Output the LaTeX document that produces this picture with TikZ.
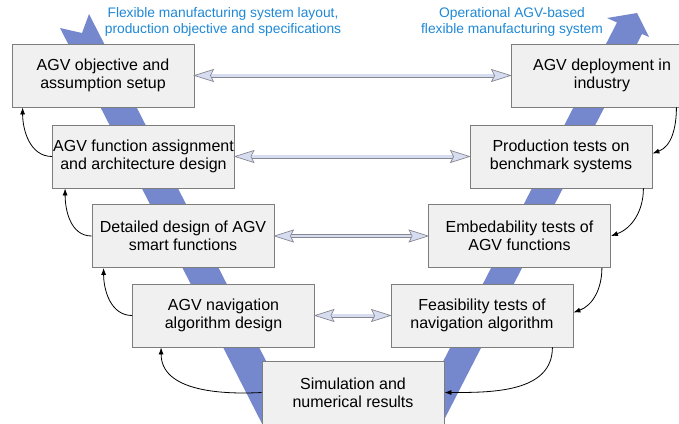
\documentclass[tikz,border=0pt]{standalone}
\usepackage{fontspec}
\setmainfont{Liberation Sans}
\usetikzlibrary{arrows.meta}
\definecolor{vblue}{RGB}{118,136,205}
\definecolor{boxfill}{RGB}{240,240,240}
\definecolor{boxline}{RGB}{125,125,125}
\definecolor{lblblue}{RGB}{30,136,214}
\definecolor{headfill}{RGB}{214,221,240}
\definecolor{dblline}{RGB}{135,135,145}
\tikzset{
  box/.style={draw=boxline, fill=boxfill, line width=0.8pt, minimum width=182pt, minimum height=63pt,
    inner sep=0pt, align=center, font=\fontsize{16}{18.3}\selectfont},
  lbl/.style={text=lblblue, align=center, inner sep=0pt, font=\fontsize{13.8}{16.4}\selectfont},
  fb/.style={draw=black, line width=0.8pt, -{Latex[length=7pt,width=5pt]}},
  shaftst/.style={draw=dblline, line width=0.9pt, double=headfill, double distance=2.2pt},
  headst/.style={draw=dblline, fill=headfill, line width=0.7pt, line join=miter},
  vband/.style={fill=vblue, draw=none}
}
\newcommand\biarrow[2]{%
  \draw[shaftst] ([xshift=17pt]#1) -- ([xshift=-17pt]#2);
  \draw[headst] (#1) -- ([xshift=19pt,yshift=6pt]#1) -- ([xshift=16pt]#1) -- ([xshift=19pt,yshift=-6pt]#1) -- cycle;
  \draw[headst] (#2) -- ([xshift=-19pt,yshift=6pt]#2) -- ([xshift=-16pt]#2) -- ([xshift=-19pt,yshift=-6pt]#2) -- cycle;
}
\begin{document}
\begin{tikzpicture}[x=1pt,y=1pt]
\useasboundingbox (0,0) rectangle (679,-423);
\clip (0,0) rectangle (679,-423);
% V bands
\fill[vband] (60,-28) -- (82,-33) -- (89,-14) -- (337,-500) -- (301,-500) -- cycle;
\fill[vband] (372,-500) -- (617,-22.5) -- (607,-18) -- (637,-13) -- (649,-37) -- (642,-34) -- (403,-500) -- cycle;
% boxes
\node[box] (b1) at (103,-75.5) {AGV objective and\\assumption setup};
\node[box] (b2) at (602,-75.5) {AGV deployment in\\industry};
\node[box] (b3) at (143.5,-156.5) {AGV function assignment\\and architecture design};
\node[box] (b4) at (561,-156.5) {Production tests on\\benchmark systems};
\node[box] (b5) at (183,-236) {Detailed design of AGV\\smart functions};
\node[box] (b6) at (519.5,-236) {Embedability tests of\\AGV functions};
\node[box] (b7) at (223.5,-315.5) {AGV navigation\\algorithm design};
\node[box] (b8) at (482,-315.5) {Feasibility tests of\\navigation algorithm};
\node[box] (b9) at (353,-392.5) {Simulation and\\numerical results};
% labels
\node[lbl] (l1) at (223,-22) {Flexible manufacturing system layout,\\production objective and specifications};
\node[lbl] (l2) at (512,-22) {Operational AGV-based\\flexible manufacturing system};
% double arrows
\biarrow{b1.east}{b2.west}
\biarrow{b3.east}{b4.west}
\biarrow{b5.east}{b6.west}
\biarrow{b7.east}{b8.west}
% feedback arrows left
\draw[fb] (b3.west) to[out=180,in=-90] ([xshift=11pt]b1.south west);
\draw[fb] (b5.west) to[out=180,in=-90] ([xshift=13pt]b3.south west);
\draw[fb] (b7.west) to[out=180,in=-90] ([xshift=12pt]b5.south west);
\draw[fb] (b9.west) to[out=183,in=-90] ([xshift=29pt]b7.south west);
% feedback arrows right
\draw[fb] ([xshift=-17pt]b2.south east) to[out=-90,in=20] ([yshift=3pt]b4.east);
\draw[fb] ([xshift=-9pt]b4.south east) to[out=-90,in=20] (b6.east);
\draw[fb] ([xshift=-9pt]b6.south east) to[out=-90,in=20] ([yshift=3pt]b8.east);
\draw[fb] ([xshift=-21pt]b8.south east) to[out=-90,in=0] (b9.east);
\end{tikzpicture}
\end{document}
